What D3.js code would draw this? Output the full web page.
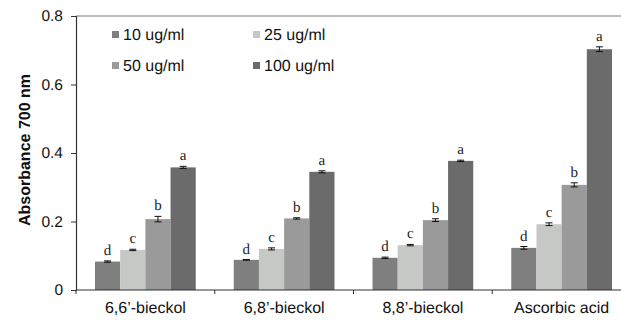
<!DOCTYPE html>
<html>
<head>
<meta charset="utf-8">
<script src="https://cdn.jsdelivr.net/npm/d3@7"></script>
<style>
  body { margin: 0; background: #fff; }
  svg { display: block; font-family: Arial, "Liberation Sans", sans-serif; text-rendering: geometricPrecision; }
</style>
</head>
<body>
<svg id="chart" width="621" height="320"></svg>
<script>
const categories = ["6,6\u2019-bieckol", "6,8\u2019-bieckol", "8,8\u2019-bieckol", "Ascorbic acid"];
const seriesNames = ["10 ug/ml", "25 ug/ml", "50 ug/ml", "100 ug/ml"];
const seriesColors = ["#7f7f7f", "#c6c8c6", "#9a9a9a", "#6b6b6b"];
// values per category, in series order
const values = [
  [0.083, 0.117, 0.207, 0.358],
  [0.088, 0.120, 0.209, 0.345],
  [0.094, 0.131, 0.204, 0.377],
  [0.123, 0.192, 0.307, 0.703]
];
const errors = [
  [0.002, 0.002, 0.008, 0.003],
  [0.001, 0.003, 0.002, 0.003],
  [0.002, 0.002, 0.004, 0.002],
  [0.004, 0.004, 0.006, 0.007]
];
const letters = ["d", "c", "b", "a"];
const yTicks = [0, 0.2, 0.4, 0.6, 0.8];

const x0 = 76, x1 = 631, yTop = 16, yBottom = 290;
const svg = d3.select("#chart");

const x = d3.scaleBand().domain(categories).range([x0, x1]);
const innerBand = d3.scaleBand().domain(seriesNames)
  .range([x.bandwidth() * 0.137, x.bandwidth() * 0.863]);
const y = d3.scaleLinear().domain([0, 0.8]).range([yBottom, yTop]);

// top frame line
svg.append("line")
  .attr("x1", x0).attr("x2", x1)
  .attr("y1", y(0.8)).attr("y2", y(0.8))
  .attr("stroke", "#7a7a7a").attr("stroke-width", 1.2);

// bars
const groups = svg.selectAll(".grp")
  .data(categories)
  .enter().append("g")
  .attr("class", "grp")
  .attr("transform", d => `translate(${x(d)},0)`);

groups.each(function(cat, ci) {
  const g = d3.select(this);
  seriesNames.forEach((s, si) => {
    const v = values[ci][si], e = errors[ci][si];
    const bx = innerBand(s), bw = innerBand.bandwidth();
    g.append("rect")
      .attr("x", bx).attr("width", bw)
      .attr("y", y(v)).attr("height", y(0) - y(v))
      .attr("fill", seriesColors[si]);
    const cx = bx + bw / 2;
    g.append("line").attr("x1", cx).attr("x2", cx)
      .attr("y1", y(v + e)).attr("y2", y(v - e))
      .attr("stroke", "#111").attr("stroke-width", 1);
    [v + e, v - e].forEach(t => {
      g.append("line").attr("x1", cx - 3.5).attr("x2", cx + 3.5)
        .attr("y1", y(t)).attr("y2", y(t))
        .attr("stroke", "#111").attr("stroke-width", 1);
    });
    g.append("text")
      .attr("x", cx).attr("y", y(v + e) - 6)
      .attr("text-anchor", "middle")
      .style("font-family", "'Liberation Serif', 'Times New Roman', serif")
      .style("font-size", "15px")
      .attr("fill", "#222")
      .text(letters[si]);
  });
});

// y axis
const yAxis = d3.axisLeft(y).tickValues(yTicks).tickSize(5).tickPadding(8)
  .tickFormat(d => d === 0 ? "0" : d3.format(".1f")(d));
const ya = svg.append("g").attr("transform", `translate(${x0},0)`).call(yAxis);
ya.select(".domain").attr("stroke", "#333").attr("stroke-width", 1.2);
ya.selectAll(".tick line").attr("stroke", "#333");
ya.selectAll(".tick text").style("font-size", "15.5px").attr("fill", "#111")
  .style("font-family", "Arial, 'Liberation Sans', sans-serif");

// x axis
const xa = svg.append("g").attr("transform", `translate(0,${yBottom})`);
xa.append("line").attr("x1", x0).attr("x2", x1).attr("y1", 0).attr("y2", 0)
  .attr("stroke", "#333").attr("stroke-width", 1.2);
xa.selectAll(".xt")
  .data(categories.concat(["end"]))
  .enter().append("line")
  .attr("x1", (d, i) => i < categories.length ? x(d) : x1)
  .attr("x2", (d, i) => i < categories.length ? x(d) : x1)
  .attr("y1", 0).attr("y2", 4)
  .attr("stroke", "#333");
xa.selectAll(".xl")
  .data(categories)
  .enter().append("text")
  .attr("x", d => x(d) + x.bandwidth() / 2)
  .attr("y", 23)
  .attr("text-anchor", "middle")
  .style("font-size", "16px")
  .attr("fill", "#111")
  .text(d => d);

// y title
svg.append("text")
  .attr("transform", `translate(30,${(yTop + yBottom) / 2 - 3}) rotate(-90)`)
  .attr("text-anchor", "middle")
  .style("font-size", "16px")
  .style("font-weight", "bold")
  .attr("fill", "#111")
  .text("Absorbance 700 nm");

// legend
const legPos = [[112, 31], [253, 31], [112, 62], [253, 62]];
const leg = svg.selectAll(".leg")
  .data(seriesNames)
  .enter().append("g")
  .attr("transform", (d, i) => `translate(${legPos[i][0]},${legPos[i][1]})`);
leg.append("rect").attr("x", 0).attr("y", 0).attr("width", 7).attr("height", 7)
  .attr("fill", (d, i) => seriesColors[i]);
leg.append("text").attr("x", 11).attr("y", 9)
  .style("font-size", "16px").attr("fill", "#111")
  .text(d => d);
</script>
</body>
</html>
